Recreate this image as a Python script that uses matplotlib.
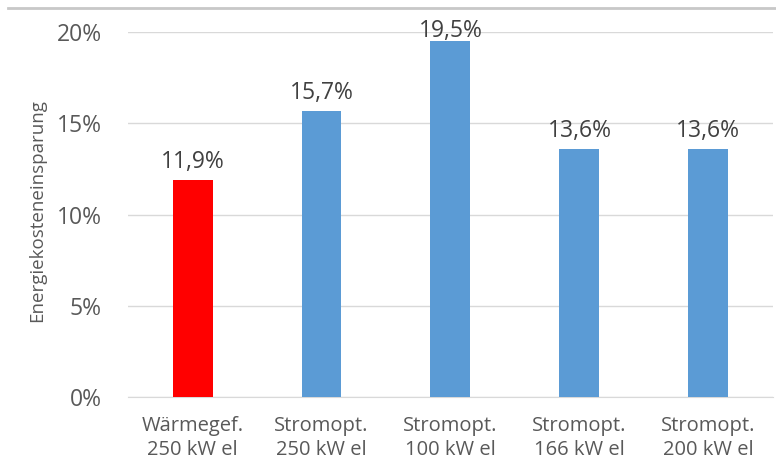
import matplotlib.pyplot as plt
from matplotlib.lines import Line2D
from matplotlib.ticker import FuncFormatter

plt.rcParams['font.family'] = ['Open Sans', 'DejaVu Sans']

categories = ["Wärmegef.\n250 kW el", "Stromopt.\n250 kW el", "Stromopt.\n100 kW el",
              "Stromopt.\n166 kW el", "Stromopt.\n200 kW el"]
savings = [11.9, 15.7, 19.5, 13.6, 13.6]
colors = ["#ff0000", "#5b9bd5", "#5b9bd5", "#5b9bd5", "#5b9bd5"]
yticks = [0, 5, 10, 15, 20]

textcol = "#595959"

fig = plt.figure(figsize=(7.76, 4.66), dpi=100)
ax = fig.add_axes([0.165, 0.148, 0.831, 0.783])

x = range(len(categories))
ax.bar(x, savings, width=0.31, color=colors, zorder=3)

# labels sit above the bars but, like Excel, are kept inside the plot area
for i, v in enumerate(savings):
    ax.text(i, min(v + 0.65, 19.75), ("%.1f%%" % v).replace(".", ","), ha="center",
            va="baseline", fontsize=16.5, color="#404040", zorder=4)

ax.set_xlim(-0.5, len(categories) - 0.5)
ax.set_ylim(0, 20)
ax.set_yticks(yticks)
ax.yaxis.set_major_formatter(FuncFormatter(lambda v, p: "%d%%" % v))
ax.set_xticks(list(x))
ax.set_xticklabels(categories, fontsize=14.5, color=textcol, linespacing=1.25)
ax.tick_params(axis="y", labelsize=16.5, colors=textcol, length=0, pad=19)
ax.tick_params(axis="x", length=0, pad=14)

ax.grid(axis="y", color="#d9d9d9", linewidth=1, zorder=0)
for s in ["top", "right", "left"]:
    ax.spines[s].set_visible(False)
ax.spines["bottom"].set_color("#d9d9d9")

ax.set_ylabel("Energiekosteneinsparung", fontsize=13.5, color=textcol)
ax.yaxis.set_label_coords(-0.127, 0.51)

# grey frame line at the top of the picture
fig.add_artist(Line2D([0.01, 1.0], [0.983, 0.983], color="#c8c8c8", linewidth=2,
                      transform=fig.transFigure))

fig.savefig("out.png", dpi=100)
